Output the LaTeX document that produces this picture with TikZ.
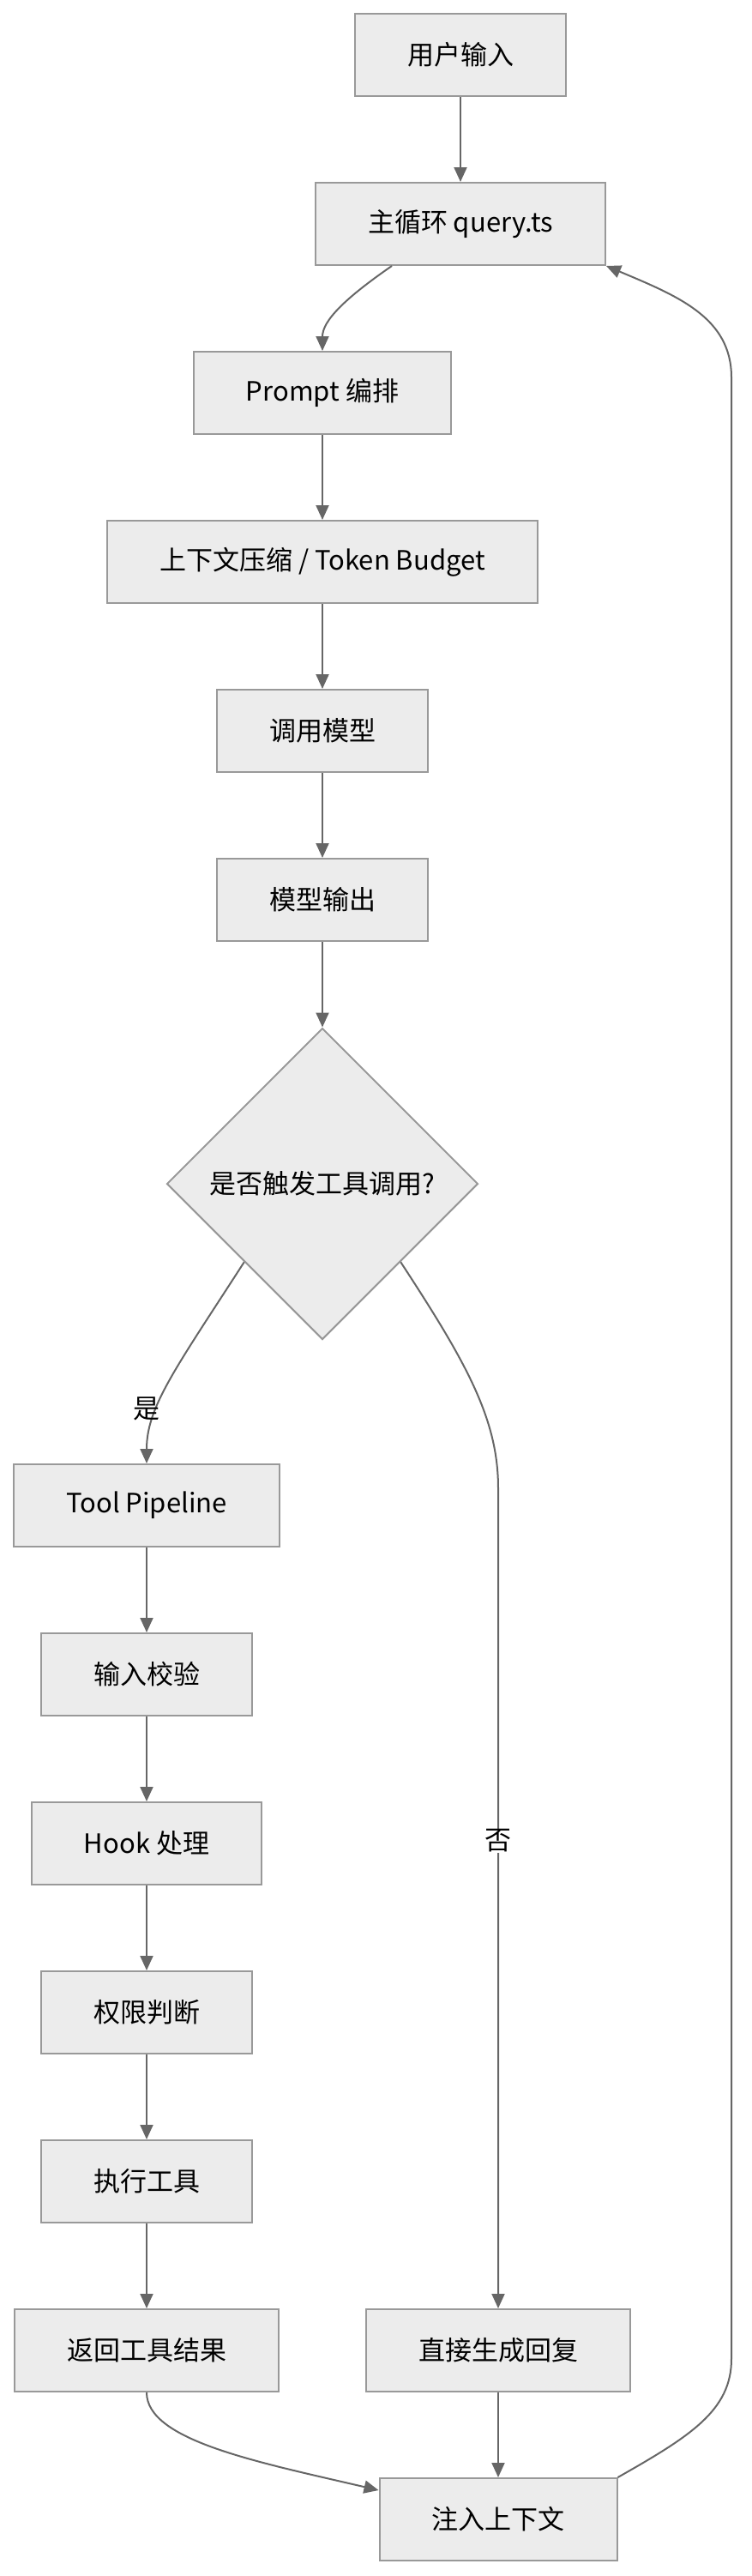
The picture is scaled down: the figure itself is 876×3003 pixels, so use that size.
\documentclass[tikz,border=0pt]{standalone}
\usepackage{fontspec}
\setmainfont{Noto Sans CJK SC}
\usetikzlibrary{arrows.meta,shapes.geometric,positioning,calc}
\definecolor{boxfill}{HTML}{ECECEC}
\definecolor{boxline}{HTML}{999999}
\definecolor{edgeline}{HTML}{666666}
\tikzset{
  procbox/.style={draw=boxline, fill=boxfill, line width=2pt, inner xsep=61pt,
    minimum height=96pt, font=\fontsize{31pt}{37pt}\selectfont},
  decision/.style={diamond, aspect=1, draw=boxline, fill=boxfill, line width=2pt,
    minimum size=363pt, inner sep=0pt, font=\fontsize{31pt}{37pt}\selectfont},
  flowline/.style={draw=edgeline, line width=2pt, -{Triangle[length=17pt,width=15pt]}},
  edgelbl/.style={inner sep=1pt, font=\fontsize{31pt}{37pt}\selectfont}
}

\begin{document}
\begin{tikzpicture}[x=1pt, y=-1pt, node distance=197pt]
\useasboundingbox (0,0) rectangle (876,3003);
\node [procbox] (userin) at (537,64) {用户输入};
\node [procbox, below of=userin] (mainloop) {主循环 query.ts};
\node [procbox] (prompt) at (376,458) {Prompt 编排};
\node [procbox, below of=prompt] (ctx) {上下文压缩 / Token Budget};
\node [procbox, below of=ctx] (callm) {调用模型};
\node [procbox, below of=callm] (mout) {模型输出};
\node [decision] (decide) at (376,1380) {是否触发工具调用?};
\node [procbox] (toolp) at (171,1755) {Tool Pipeline};
\node [procbox, below of=toolp] (valid) {输入校验};
\node [procbox, below of=valid] (hook) {Hook 处理};
\node [procbox, below of=hook] (perm) {权限判断};
\node [procbox, below of=perm] (exec) {执行工具};
\node [procbox, below of=exec] (ret) {返回工具结果};
\node [procbox] (direct) at (581,2740) {直接生成回复};
\node [procbox, below of=direct] (inject) {注入上下文};
\draw [flowline] (userin) -- (mainloop);
\draw [flowline] ($(mainloop.south)+(-80,0)$) .. controls (402,348) and (376,374) .. (prompt.north);
\draw [flowline] (prompt) -- (ctx);
\draw [flowline] (ctx) -- (callm);
\draw [flowline] (callm) -- (mout);
\draw [flowline] (mout) -- (decide);
\draw [flowline] (decide.south west) .. controls (205,1595) and (171,1640) .. node [edgelbl, pos=0.66, xshift=-12pt] {是} (toolp.north);
\draw [flowline] (decide.south east) .. controls (545,1590) and (581,1655) .. (581,1735) -- node [edgelbl, fill=white, pos=0.43] {否} (direct.north);
\draw [flowline] (toolp) -- (valid);
\draw [flowline] (valid) -- (hook);
\draw [flowline] (hook) -- (perm);
\draw [flowline] (perm) -- (exec);
\draw [flowline] (exec) -- (ret);
\draw [flowline] (ret.south) .. controls (171,2845) and (300,2870) .. ($(inject.north west)+(0,15)$);
\draw [flowline] (direct) -- (inject);
\draw [flowline] (inject.north east) .. controls (805,2840) and (853,2810) .. (853,2750) -- (853,440) .. controls (853,370) and (790,345) .. (mainloop.south east);
\end{tikzpicture}
\end{document}
